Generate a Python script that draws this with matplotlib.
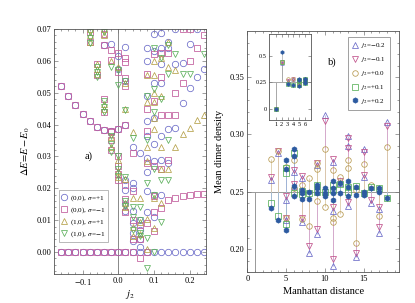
import numpy as np
import matplotlib
matplotlib.use("Agg")
import matplotlib.pyplot as plt

plt.rcParams['font.family'] = ['Liberation Serif', 'DejaVu Serif']
plt.rcParams['mathtext.fontset'] = 'stix'

# ---------------- panel a) data ----------------
j2_grid = [-0.16, -0.14, -0.12, -0.10, -0.08, -0.06, -0.04, -0.02, 0.00, 0.02, 0.04,
           0.06, 0.08, 0.10, 0.12, 0.14, 0.16, 0.18, 0.20, 0.22, 0.24]
ground_circ = [0.0, 0.0, 0.0, 0.0, 0.0, 0.0, 0.0, 0.0, 0.0, 0.0, 0.0,
               0.0, 0.0, 0.0, 0.0, 0.0, 0.0, 0.0, 0.0, 0.0, 0.0]
ground_sq_j2 = [-0.16, -0.14, -0.12, -0.10, -0.08, -0.06, -0.04, -0.02, 0.00, 0.02, 0.04]
ground_sq = [0.0, 0.0, 0.0, 0.0, 0.0, 0.0, 0.0, 0.0, 0.0, 0.0, 0.0]

branch_j2 = [-0.16, -0.14, -0.12, -0.10, -0.08, -0.06, -0.04, -0.02, 0.00, 0.02]
branch_dE = [0.0520, 0.0488, 0.0460, 0.0433, 0.0410, 0.0393, 0.0383, 0.0380, 0.0386, 0.0399]

circ_pts = [(-0.04, 0.0648), (-0.02, 0.0652), (0.0, 0.0615), (0.0, 0.0575), (0.02, 0.0644),
            (0.02, 0.0535), (0.02, 0.0225), (0.02, 0.0195), (0.02, 0.0150), (0.02, 0.0130),
            (0.04, 0.0330), (0.04, 0.0215), (0.04, 0.0200), (0.04, 0.0130), (0.04, 0.0090),
            (0.04, 0.0060), (0.04, 0.0035), (0.06, 0.0310), (0.06, 0.0100), (0.06, 0.0070),
            (0.06, 0.0040), (0.06, 0.0015), (0.08, 0.0295), (0.08, 0.0250), (0.08, 0.0190),
            (0.08, 0.0125), (0.08, 0.0365), (0.08, 0.0410), (0.08, 0.0490), (0.08, 0.0600),
            (0.08, 0.0640), (0.10, 0.0340), (0.10, 0.0285), (0.10, 0.0180), (0.10, 0.0110),
            (0.10, 0.0420), (0.10, 0.0530), (0.10, 0.0630), (0.10, 0.0685), (0.12, 0.0290),
            (0.12, 0.0180), (0.12, 0.0365), (0.12, 0.0530), (0.12, 0.0590), (0.12, 0.0640),
            (0.12, 0.0688), (0.14, 0.0280), (0.14, 0.0385), (0.14, 0.0640), (0.14, 0.0660),
            (0.16, 0.0390), (0.16, 0.0700), (0.16, 0.0590), (0.18, 0.0466), (0.18, 0.0593),
            (0.20, 0.0516), (0.20, 0.0654), (0.22, 0.0550), (0.22, 0.0700), (0.24, 0.0575)]

sq_pts = [(-0.08, 0.0660), (-0.08, 0.0690), (-0.06, 0.0555), (-0.06, 0.0590), (-0.04, 0.0440),
          (-0.04, 0.0480), (-0.04, 0.0648), (-0.04, 0.0685), (-0.02, 0.0634), (-0.02, 0.0603),
          (-0.02, 0.0320), (-0.02, 0.0350), (-0.02, 0.0375), (0.0, 0.0624), (0.0, 0.0565),
          (0.0, 0.0300), (0.0, 0.0270), (0.0, 0.0245), (0.0, 0.0225), (0.02, 0.0610),
          (0.02, 0.0597), (0.02, 0.0545), (0.02, 0.0520), (0.02, 0.0210), (0.02, 0.0165),
          (0.02, 0.0125), (0.04, 0.0310), (0.04, 0.0190), (0.04, 0.0100), (0.04, 0.0040),
          (0.06, -0.0020), (0.06, 0.0040), (0.06, 0.0085), (0.08, 0.0000), (0.08, 0.0090),
          (0.08, 0.0280), (0.08, 0.0380), (0.08, 0.0450), (0.08, 0.0560), (0.10, 0.0065),
          (0.10, 0.0125), (0.10, 0.0175), (0.10, 0.0270), (0.10, 0.0475), (0.10, 0.0620),
          (0.12, 0.0139), (0.12, 0.0260), (0.12, 0.0430), (0.12, 0.0550), (0.12, 0.0625),
          (0.14, 0.0162), (0.14, 0.0290), (0.14, 0.0430), (0.14, 0.0625), (0.16, 0.0170),
          (0.16, 0.0430), (0.16, 0.0500), (0.18, 0.0176), (0.18, 0.0530), (0.18, 0.0700),
          (0.20, 0.0180), (0.20, 0.0600), (0.20, 0.0700), (0.22, 0.0182), (0.22, 0.0640),
          (0.24, 0.0183), (0.24, 0.0680)]

tup_pts = [(-0.08, 0.0660), (-0.08, 0.0680), (-0.08, 0.0700), (-0.06, 0.0560), (-0.06, 0.0575),
           (-0.06, 0.0590), (-0.04, 0.0450), (-0.04, 0.0465), (-0.04, 0.0680), (-0.04, 0.0700),
           (-0.02, 0.0330), (-0.02, 0.0360), (-0.02, 0.0600), (0.0, 0.0580), (0.0, 0.0290),
           (0.0, 0.0255), (0.0, 0.0235), (0.02, 0.0530), (0.02, 0.0450), (0.02, 0.0230),
           (0.02, 0.0155), (0.02, 0.0140), (0.04, 0.0377), (0.04, 0.0168), (0.04, 0.0080),
           (0.04, 0.0050), (0.06, 0.0095), (0.06, 0.0055), (0.06, 0.0170), (0.08, 0.0010),
           (0.08, 0.0105), (0.08, 0.0285), (0.08, 0.0330), (0.08, 0.0555), (0.08, 0.0470),
           (0.10, 0.0075), (0.10, 0.0170), (0.10, 0.0555), (0.10, 0.0500), (0.10, 0.0470),
           (0.10, 0.0420), (0.10, 0.0385), (0.10, 0.0600), (0.12, 0.0155), (0.12, 0.0260),
           (0.12, 0.0330), (0.12, 0.0490), (0.12, 0.0610), (0.14, 0.0260), (0.14, 0.0660),
           (0.14, 0.0580), (0.16, 0.0330), (0.16, 0.0570), (0.18, 0.0370), (0.20, 0.0390),
           (0.22, 0.0415), (0.24, 0.0430)]

tdn_pts = [(-0.08, 0.0655), (-0.08, 0.0670), (-0.08, 0.0690), (-0.06, 0.0550), (-0.06, 0.0565),
           (-0.06, 0.0580), (-0.04, 0.0440), (-0.04, 0.0455), (-0.04, 0.0475), (-0.04, 0.0690),
           (-0.02, 0.0315), (-0.02, 0.0340), (-0.02, 0.0365), (-0.02, 0.0580), (0.0, 0.0524),
           (0.0, 0.0570), (0.0, 0.0300), (0.0, 0.0260), (0.0, 0.0240), (0.02, 0.0446),
           (0.02, 0.0535), (0.02, 0.0235), (0.02, 0.0160), (0.02, 0.0145), (0.04, 0.0358),
           (0.04, 0.0140), (0.04, 0.0110), (0.04, 0.0070), (0.06, 0.0140), (0.06, 0.0100),
           (0.06, 0.0060), (0.06, 0.0050), (0.08, -0.0050), (0.08, 0.0045), (0.08, 0.0215),
           (0.08, 0.0350), (0.08, 0.0490), (0.10, 0.0000), (0.10, 0.0180), (0.10, 0.0260),
           (0.10, 0.0440), (0.10, 0.0510), (0.10, 0.0640), (0.12, 0.0095), (0.12, 0.0225),
           (0.12, 0.0480), (0.12, 0.0610), (0.14, 0.0225), (0.14, 0.0350), (0.14, 0.0560),
           (0.14, 0.0650), (0.16, 0.0620), (0.18, 0.0560), (0.20, 0.0557), (0.24, 0.0620)]

# ---------------- panel b) data ----------------
# (Manhattan distance, mean dimer density)
b_m02 = [(3, 0.260), (4, 0.284), (5, 0.243), (5, 0.225), (6, 0.267), (6, 0.255), (7, 0.262),
         (7, 0.224), (8, 0.197), (9, 0.273), (9, 0.213), (10, 0.317), (11, 0.276), (11, 0.233),
         (11, 0.185), (12, 0.258), (13, 0.299), (13, 0.290), (13, 0.238), (14, 0.193),
         (15, 0.287), (15, 0.263), (16, 0.240), (17, 0.235), (17, 0.214), (18, 0.311)]
b_m01 = [(3, 0.263), (4, 0.286), (5, 0.246), (5, 0.227), (6, 0.269), (6, 0.257), (7, 0.264),
         (7, 0.227), (8, 0.203), (9, 0.275), (9, 0.218), (10, 0.312), (11, 0.279), (11, 0.237),
         (11, 0.191), (12, 0.259), (13, 0.297), (13, 0.288), (13, 0.241), (14, 0.197),
         (15, 0.285), (15, 0.265), (16, 0.243), (17, 0.237), (17, 0.219), (18, 0.307)]
b_p00 = [(3, 0.279), (4, 0.286), (5, 0.272), (5, 0.227), (6, 0.278), (6, 0.253), (7, 0.256),
         (7, 0.226), (8, 0.262), (8, 0.220), (9, 0.275), (9, 0.270), (9, 0.242), (10, 0.287),
         (10, 0.237), (11, 0.269), (11, 0.227), (11, 0.224), (12, 0.263), (12, 0.231),
         (13, 0.278), (13, 0.271), (14, 0.252), (14, 0.205), (15, 0.274), (16, 0.256),
         (17, 0.229), (18, 0.289)]
b_p01 = [(3, 0.240), (4, 0.229), (5, 0.271), (5, 0.266), (5, 0.222), (6, 0.284), (6, 0.249),
         (7, 0.251), (7, 0.248), (8, 0.249), (9, 0.256), (9, 0.250), (10, 0.250), (11, 0.256),
         (11, 0.252), (12, 0.257), (13, 0.254), (13, 0.250), (14, 0.255), (15, 0.249),
         (16, 0.254), (17, 0.253), (18, 0.245)]
b_p02 = [(3, 0.236), (4, 0.225), (5, 0.278), (5, 0.270), (5, 0.217), (6, 0.287), (6, 0.281),
         (6, 0.255), (6, 0.246), (7, 0.252), (7, 0.249), (7, 0.244), (8, 0.250), (8, 0.244),
         (9, 0.256), (9, 0.253), (9, 0.249), (10, 0.253), (10, 0.249), (10, 0.246), (11, 0.259),
         (11, 0.253), (11, 0.249), (11, 0.243), (12, 0.2575), (12, 0.249), (13, 0.259),
         (13, 0.2546), (13, 0.246), (14, 0.2546), (14, 0.2474), (15, 0.250), (15, 0.2474),
         (16, 0.253), (17, 0.253), (17, 0.250), (18, 0.2445)]
# short distances, only visible in the inset
near_m02 = [(1, 0.0), (2, 0.430)]
near_m01 = [(1, 0.0), (2, 0.445)]
near_p00 = [(1, 0.0), (2, 0.440)]
near_p01 = [(1, 0.0), (2, 0.440)]
near_p02 = [(1, 0.0), (2, 0.537)]

c_circ, c_sq, c_tup, c_tdn = '#6b6bc8', '#c0589a', '#b5a048', '#5cb05c'
b_cols = ['#6b6bc8', '#c0508a', '#b89a50', '#58b058', '#2c5aa0']
b_stem = ['#b0b0e0', '#dba8c8', '#dccca8', '#b0dcb0', '#a0b4d8']
b_mk = ['^', 'v', 'o', 's', 'h']
b_lab = [r'$j_2$=$-$0.2', r'$j_2$=$-$0.1', r'$j_2$=+0.0', r'$j_2$=+0.1', r'$j_2$=+0.2']

fig = plt.figure(figsize=(4.15, 3.03), dpi=100)
ax1 = fig.add_axes([0.130, 0.0957, 0.366, 0.809])
ax2 = fig.add_axes([0.596, 0.102, 0.366, 0.795])
ax3 = fig.add_axes([0.648, 0.604, 0.101, 0.283])

frame_c = '#555555'


def style(ax, size=6):
    for s in ax.spines.values():
        s.set_color(frame_c)
        s.set_linewidth(0.6)
    ax.tick_params(which='both', direction='in', top=True, right=True, colors='#777777',
                   labelcolor='black', labelsize=size, width=0.5, pad=2)
    ax.tick_params(which='major', length=3)
    ax.tick_params(which='minor', length=1.5)


# ---- panel a ----
ms = 4.6
kw = dict(linestyle='none', markerfacecolor='none', markeredgewidth=0.55, clip_on=True)
ax1.axvline(0.0, color='#888888', lw=0.7, zorder=0)
ax1.plot(j2_grid, ground_circ, marker='o', color=c_circ, markersize=ms, **kw)
ax1.plot(ground_sq_j2, ground_sq, marker='s', color=c_sq, markersize=ms * 0.9, **kw)
ax1.plot(branch_j2, branch_dE, marker='o', color=c_circ, markersize=ms, **kw)
ax1.plot(branch_j2, branch_dE, marker='s', color=c_sq, markersize=ms * 0.9, **kw)
for pts, mk, col, f in [(circ_pts, 'o', c_circ, 1.0), (sq_pts, 's', c_sq, 0.9),
                        (tup_pts, '^', c_tup, 1.0), (tdn_pts, 'v', c_tdn, 1.0)]:
    xs, ys = zip(*pts)
    ax1.plot(xs, ys, marker=mk, color=col, markersize=ms * f, **kw)

# legend handles
h1 = ax1.plot([], [], marker='o', color=c_circ, markersize=ms, **kw)[0]
h2 = ax1.plot([], [], marker='s', color=c_sq, markersize=ms * 0.9, **kw)[0]
h3 = ax1.plot([], [], marker='^', color=c_tup, markersize=ms, **kw)[0]
h4 = ax1.plot([], [], marker='v', color=c_tdn, markersize=ms, **kw)[0]
leg = ax1.legend([h1, h2, h3, h4],
                 [r'(0,0), $\sigma$=+1', r'(0,0), $\sigma$=$-$1', r'(1,0), $\sigma$=+1', r'(1,0), $\sigma$=$-$1'],
                 loc='lower left', bbox_to_anchor=(0.03, 0.13), fontsize=5.2, frameon=True,
                 fancybox=False, edgecolor='#999999', handlelength=0.8, handletextpad=0.4,
                 borderpad=0.4, labelspacing=0.35, borderaxespad=0)
leg.get_frame().set_linewidth(0.6)

ax1.set_xlim(-0.18, 0.245)
ax1.set_ylim(-0.0069, 0.07)
ax1.set_xticks([-0.1, 0.0, 0.1, 0.2])
ax1.set_xticklabels([r'$-$0.1', '0.0', '0.1', '0.2'])
ax1.set_xticks(np.arange(-0.18, 0.25, 0.02), minor=True)
ax1.set_yticks([0.0, 0.01, 0.02, 0.03, 0.04, 0.05, 0.06, 0.07])
ax1.set_yticklabels(['0.00', '0.01', '0.02', '0.03', '0.04', '0.05', '0.06', '0.07'])
ax1.set_yticks(np.arange(-0.006, 0.07, 0.002), minor=True)
style(ax1)
ax1.set_xlabel(r'$j_2$', fontsize=7.5, labelpad=1)
ax1.set_ylabel(r'$\Delta E\!=\!E-E_0$', fontsize=7.5, labelpad=3)
ax1.text(0.226, 0.482, 'a)', transform=ax1.transAxes, fontsize=7.5, ha='center', va='center')

# ---- panel b ----
bkw = dict(linestyle='none', markeredgewidth=0.55)
series = [b_m02, b_m01, b_p00, b_p01, b_p02]
nears = [near_m02, near_m01, near_p00, near_p01, near_p02]
ax2.axhline(0.25, color='#999999', lw=0.7, zorder=0)
ax2.vlines(1, 0.0, 0.25, color='#999999', lw=0.7, zorder=0)
handles = []
for pts, col, sc, mk in zip(series, b_cols, b_stem, b_mk):
    xs, ys = zip(*pts)
    ax2.vlines(xs, 0.25, ys, color=sc, lw=0.6, zorder=1)
for i, (pts, col, mk) in enumerate(zip(series, b_cols, b_mk)):
    xs, ys = zip(*pts)
    filled = (i == 4)
    hh = ax2.plot(xs, ys, marker=mk, color=col, markersize=4.0 if not filled else 3.8,
                  markerfacecolor=col if filled else 'none', zorder=2 + i, **bkw)[0]
    handles.append(hh)
leg2 = ax2.legend(handles, b_lab, loc='upper right', bbox_to_anchor=(0.94, 0.975), fontsize=5,
                  frameon=True, fancybox=False, edgecolor='#888888', handlelength=0.8,
                  handletextpad=0.5, borderpad=0.6, labelspacing=0.7, borderaxespad=0)
leg2.get_frame().set_linewidth(0.7)
ax2.set_xlim(0, 19.6)
ax2.set_ylim(0.18, 0.39)
ax2.set_xticks([0, 5, 10, 15])
ax2.set_xticks(np.arange(0, 20, 1), minor=True)
ax2.set_yticks([0.20, 0.25, 0.30, 0.35])
ax2.set_yticklabels(['0.20', '0.25', '0.30', '0.35'])
ax2.set_yticks(np.arange(0.18, 0.39, 0.01), minor=True)
style(ax2)
ax2.set_xlabel('Manhattan distance', fontsize=7.5, labelpad=3)
ax2.set_ylabel('Mean dimer density', fontsize=7.5, labelpad=4)
ax2.text(0.556, 0.87, 'b)', transform=ax2.transAxes, fontsize=7.5, ha='center', va='center')

# ---- inset ----
ax3.axhline(0.25, color='#999999', lw=0.6, zorder=0)
for pts, near, col, sc, mk in zip(series, nears, b_cols, b_stem, b_mk):
    sel = near + [p for p in pts if p[0] <= 6]
    xs, ys = zip(*sel)
    ax3.vlines(xs, 0.25, ys, color='#aaaaaa', lw=0.5, zorder=1)
for i, (pts, near, col, mk) in enumerate(zip(series, nears, b_cols, b_mk)):
    sel = near + [p for p in pts if p[0] <= 6]
    xs, ys = zip(*sel)
    filled = (i == 4)
    ax3.plot(xs, ys, marker=mk, color=col, markersize=2.6,
             markerfacecolor=col if filled else 'none', zorder=2 + i, linestyle='none',
             markeredgewidth=0.5)
ax3.set_xlim(-0.2, 7.0)
ax3.set_ylim(-0.1, 0.7)
ax3.set_xticks([1, 2, 3, 4, 5, 6])
ax3.set_yticks([0, 0.25, 0.5])
ax3.set_yticklabels(['0', '0.25', '0.5'])
style(ax3, size=4.5)
ax3.tick_params(which='major', length=2, pad=1.5)
ax3.set_facecolor('white')

fig.savefig('out.png', dpi=100)
